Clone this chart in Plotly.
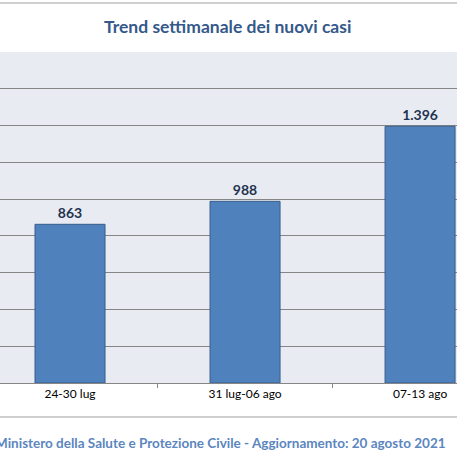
import plotly.graph_objects as go

weeks = ["24-30 lug", "31 lug-06 ago", "07-13 ago"]
new_cases = [863, 988, 1396]

title_text = "Trend settimanale dei nuovi casi"
footer_text = "Ministero della Salute e Protezione Civile - Aggiornamento: 20 agosto 2021"

fig = go.Figure()
fig.add_trace(go.Bar(
    x=weeks, y=new_cases,
    width=0.4,
    marker=dict(color="#4F81BD", line=dict(color="#385D8A", width=1)),
    texttemplate="%{y:,d}", textposition="outside", cliponaxis=False,
    textfont=dict(family="Lato", size=14, color="#1F3350", weight="bold"),
))

fig.update_layout(
    width=457, height=457,
    margin=dict(l=0, r=0, t=52, b=74),
    paper_bgcolor="white", plot_bgcolor="#E9EBF2",
    separators=",.",
    showlegend=False,
    font=dict(family="Lato", color="black"),
)
fig.update_xaxes(
    range=[-0.4, 2.211], showgrid=False,
    showline=True, linecolor="#868686", linewidth=1,
    ticks="outside", tickson="boundaries", ticklen=4, tickcolor="#868686",
    tickfont=dict(size=12, color="black"),
)
fig.update_yaxes(
    range=[0, 1800], dtick=200, showticklabels=False,
    showgrid=True, gridcolor="#868686", gridwidth=1, zeroline=False,
)

# chart border lines (top and bottom of the cropped excel chart)
fig.add_shape(type="line", xref="paper", yref="paper", x0=0, x1=1,
              y0=1.148, y1=1.148, line=dict(color="#A0A0A0", width=1))
fig.add_shape(type="line", xref="paper", yref="paper", x0=0, x1=1,
              y0=-0.1027, y1=-0.1027, line=dict(color="#A0A0A0", width=1))

fig.add_annotation(text="<b>" + title_text + "</b>", xref="paper", yref="paper",
                   x=0.497, y=1.0785, showarrow=False, yanchor="middle",
                   font=dict(family="Lato", size=17.5, color="#34598A"))
fig.add_annotation(text="<b>" + footer_text + "</b>", xref="paper", yref="paper",
                   x=0.980, y=-0.181, xanchor="right", yanchor="middle", showarrow=False,
                   font=dict(family="Lato", size=13.5, color="#5B86C0"))

fig.write_html("out.html", config={"displayModeBar": False},
               post_script="document.body.style.margin='0';")
